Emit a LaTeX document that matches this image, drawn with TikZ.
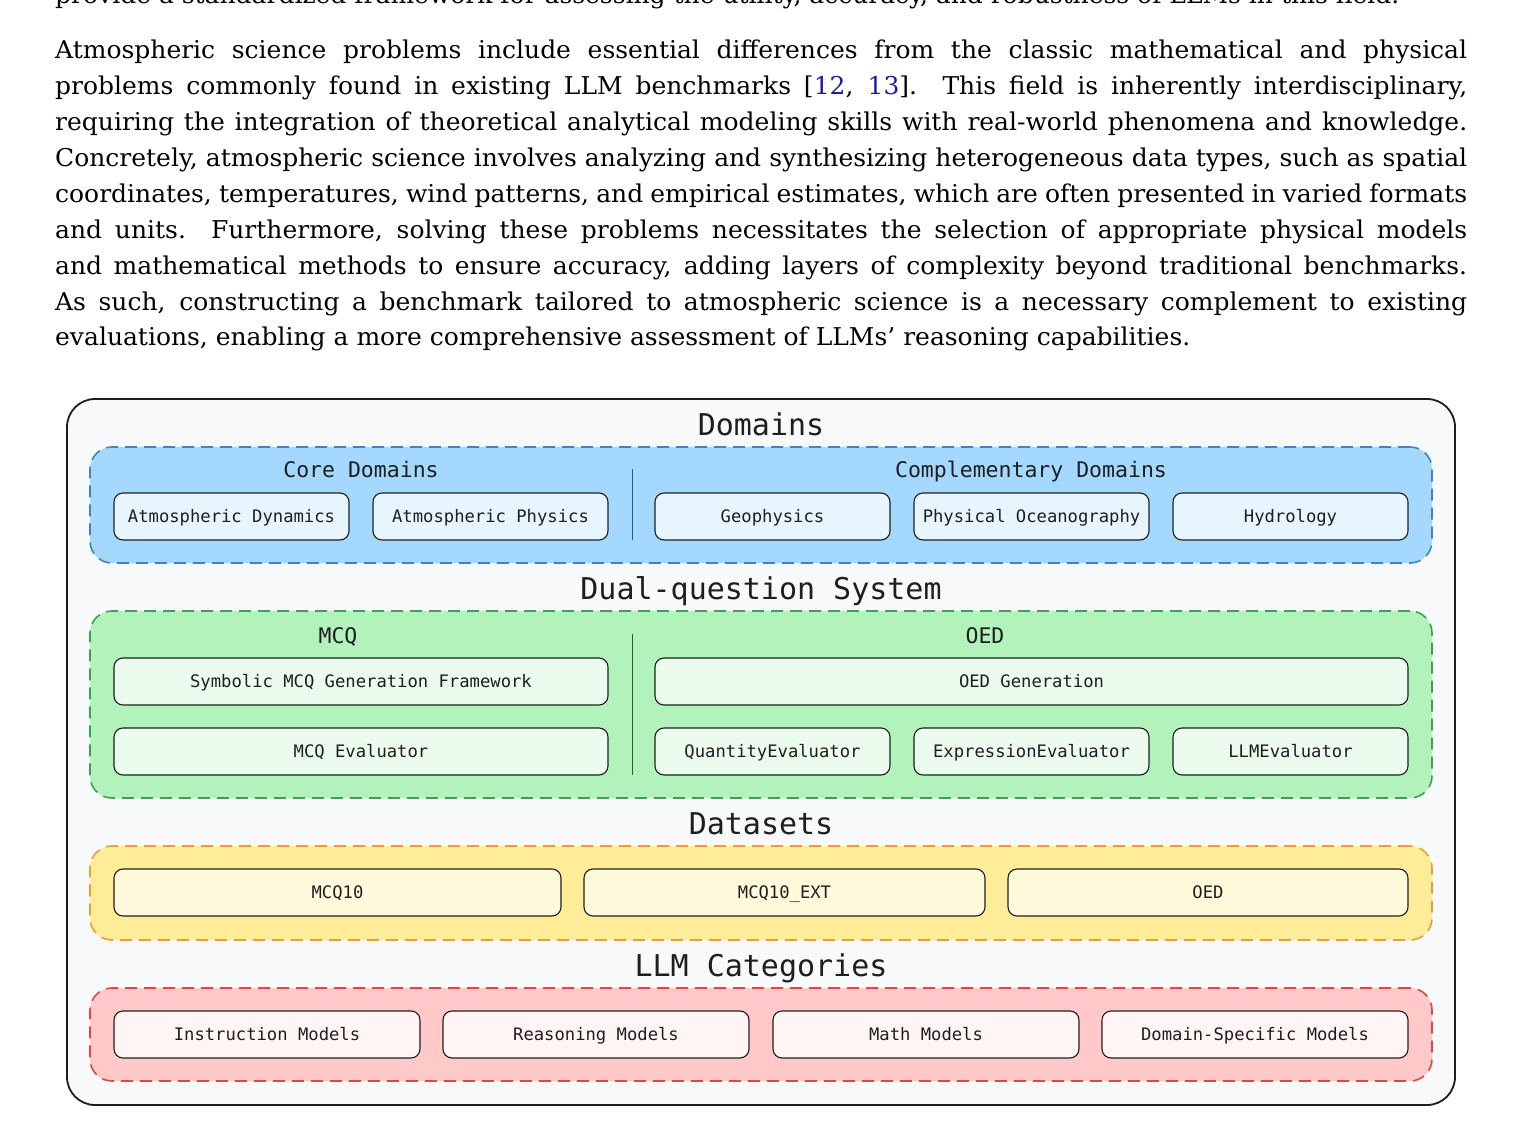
\documentclass[tikz,border=0pt]{standalone}
\usepackage{fontspec}
\setmainfont{DejaVu Serif}[FakeStretch=1.02]
\newfontfamily\dmono{DejaVu Sans Mono}
\definecolor{ink}{HTML}{1E1E1E}
\definecolor{citeblue}{HTML}{1A1AA6}
\definecolor{outerfill}{HTML}{F8F9FA}
\definecolor{bluefill}{HTML}{A5D8FF}
\definecolor{bluedash}{HTML}{3B85C6}
\definecolor{bluebox}{HTML}{E7F5FF}
\definecolor{greenfill}{HTML}{B2F2BB}
\definecolor{greendash}{HTML}{3FA04F}
\definecolor{greenbox}{HTML}{EBFBEE}
\definecolor{yellowfill}{HTML}{FFEC99}
\definecolor{yellowdash}{HTML}{E9A030}
\definecolor{yellowbox}{HTML}{FFF9DB}
\definecolor{redfill}{HTML}{FFC9C9}
\definecolor{reddash}{HTML}{E04646}
\definecolor{redbox}{HTML}{FFF5F5}
\tikzset{
  bodytext/.style={anchor=base west, inner sep=0pt, text=black, font=\fontsize{24.5}{36}\selectfont},
  outerbox/.style={draw=ink, line width=1.8pt, fill=outerfill, rounded corners=28pt, inner sep=0pt},
  groupbox/.style={line width=1.6pt, dash pattern=on 12pt off 7pt, rounded corners=22pt, inner sep=0pt, minimum width=1342pt},
  titletext/.style={anchor=base, inner sep=0pt, text=ink, font=\dmono\fontsize{30}{36}\selectfont},
  subtext/.style={anchor=base, inner sep=0pt, text=ink, font=\dmono\fontsize{21.5}{26}\selectfont},
  itembox/.style={draw=ink, line width=1.1pt, rounded corners=9pt, minimum height=47pt, inner sep=0pt, text=ink,
     font=\dmono\fontsize{17.2}{20}\selectfont, text height=12.5pt, text depth=0pt},
  divider/.style={line width=1pt},
}
\begin{document}
\begin{tikzpicture}[x=1pt,y=-1pt]
\useasboundingbox (0,0) rectangle (1532,1131);
% body text
\node[bodytext] (p0) at (55,4) {provide a standardized framework for assessing the utility, accuracy, and robustness of LLMs in this field.};
\node[bodytext] (p1) at (55,59) {\makebox[1412pt][s]{Atmospheric science problems include essential differences from the classic mathematical and physical}};
\node[bodytext] (p2) at (55,94.875) {\makebox[1412pt][s]{problems commonly found in existing LLM benchmarks [{\color{citeblue}12}, {\color{citeblue}13}].  This field is inherently interdisciplinary,}};
\node[bodytext] (p3) at (55,130.75) {\makebox[1412pt][s]{requiring the integration of theoretical analytical modeling skills with real-world phenomena and knowledge.}};
\node[bodytext] (p4) at (55,166.625) {\makebox[1412pt][s]{Concretely, atmospheric science involves analyzing and synthesizing heterogeneous data types, such as spatial}};
\node[bodytext] (p5) at (55,202.5) {\makebox[1412pt][s]{coordinates, temperatures, wind patterns, and empirical estimates, which are often presented in varied formats}};
\node[bodytext] (p6) at (55,238.375) {\makebox[1412pt][s]{and units.  Furthermore, solving these problems necessitates the selection of appropriate physical models}};
\node[bodytext] (p7) at (55,274.25) {\makebox[1412pt][s]{and mathematical methods to ensure accuracy, adding layers of complexity beyond traditional benchmarks.}};
\node[bodytext] (p8) at (55,310.125) {\makebox[1412pt][s]{As such, constructing a benchmark tailored to atmospheric science is a necessary complement to existing}};
\node[bodytext] (p9) at (55,346) {evaluations, enabling a more comprehensive assessment of LLMs' reasoning capabilities.};

% outer frame
\node[outerbox, minimum width=1388pt, minimum height=706pt] (outer) at (761,752) {};

% Domains
\node[titletext] (tdom) at (761,436) {Domains};
\node[groupbox, draw=bluedash, fill=bluefill, minimum height=116pt] (gdom) at (761,505) {};
\node[subtext] (tcore) at (361,478) {Core Domains};
\node[subtext] (tcomp) at (1031,478) {Complementary Domains};
\coordinate (d1a) at (632,469);
\coordinate (d1b) at (632,540);
\draw[divider, draw=bluedash!70!black] (d1a) -- (d1b);
\node[itembox, fill=bluebox, minimum width=235pt] (ad) at (231.5,516.5) {Atmospheric Dynamics};
\node[itembox, fill=bluebox, minimum width=235pt] (ap) at (490.5,516.5) {Atmospheric Physics};
\node[itembox, fill=bluebox, minimum width=235pt] (geo) at (772.5,516.5) {Geophysics};
\node[itembox, fill=bluebox, minimum width=235pt] (po) at (1031.5,516.5) {Physical Oceanography};
\node[itembox, fill=bluebox, minimum width=235pt] (hy) at (1290.5,516.5) {Hydrology};

% Dual-question System
\node[titletext] (tdual) at (761,599) {Dual-question System};
\node[groupbox, draw=greendash, fill=greenfill, minimum height=187pt] (gdual) at (761,704.5) {};
\node[subtext] (tmcq) at (338,643) {MCQ};
\node[subtext] (toed) at (985,643) {OED};
\coordinate (d2a) at (632,634);
\coordinate (d2b) at (632,775);
\draw[divider, draw=greendash!60!black] (d2a) -- (d2b);
\node[itembox, fill=greenbox, minimum width=494pt] (smcq) at (361,681.5) {Symbolic MCQ Generation Framework};
\node[itembox, fill=greenbox, minimum width=753pt] (oedgen) at (1031.5,681.5) {OED Generation};
\node[itembox, fill=greenbox, minimum width=494pt] (mcqev) at (361,751.5) {MCQ Evaluator};
\node[itembox, fill=greenbox, minimum width=235pt] (qev) at (772.5,751.5) {QuantityEvaluator};
\node[itembox, fill=greenbox, minimum width=235pt] (eev) at (1031.5,751.5) {ExpressionEvaluator};
\node[itembox, fill=greenbox, minimum width=235pt] (lev) at (1290.5,751.5) {LLMEvaluator};

% Datasets
\node[titletext] (tdata) at (761,834) {Datasets};
\node[groupbox, draw=yellowdash, fill=yellowfill, minimum height=94pt] (gdata) at (761,893) {};
\node[itembox, fill=yellowbox, minimum width=447pt] (mcqten) at (337.5,892.5) {MCQ10};
\node[itembox, fill=yellowbox, minimum width=401pt] (mcqext) at (784.5,892.5) {MCQ10\_EXT};
\node[itembox, fill=yellowbox, minimum width=400pt] (oedds) at (1208,892.5) {OED};

% LLM Categories
\node[titletext] (tllm) at (761,976) {LLM Categories};
\node[groupbox, draw=reddash, fill=redfill, minimum height=93pt] (gllm) at (761,1034.5) {};
\node[itembox, fill=redbox, minimum width=306pt] (inst) at (267,1034.5) {Instruction Models};
\node[itembox, fill=redbox, minimum width=306pt] (reas) at (596,1034.5) {Reasoning Models};
\node[itembox, fill=redbox, minimum width=306pt] (math) at (926,1034.5) {Math Models};
\node[itembox, fill=redbox, minimum width=306pt] (dsm) at (1255,1034.5) {Domain-Specific Models};
\end{tikzpicture}
\end{document}
